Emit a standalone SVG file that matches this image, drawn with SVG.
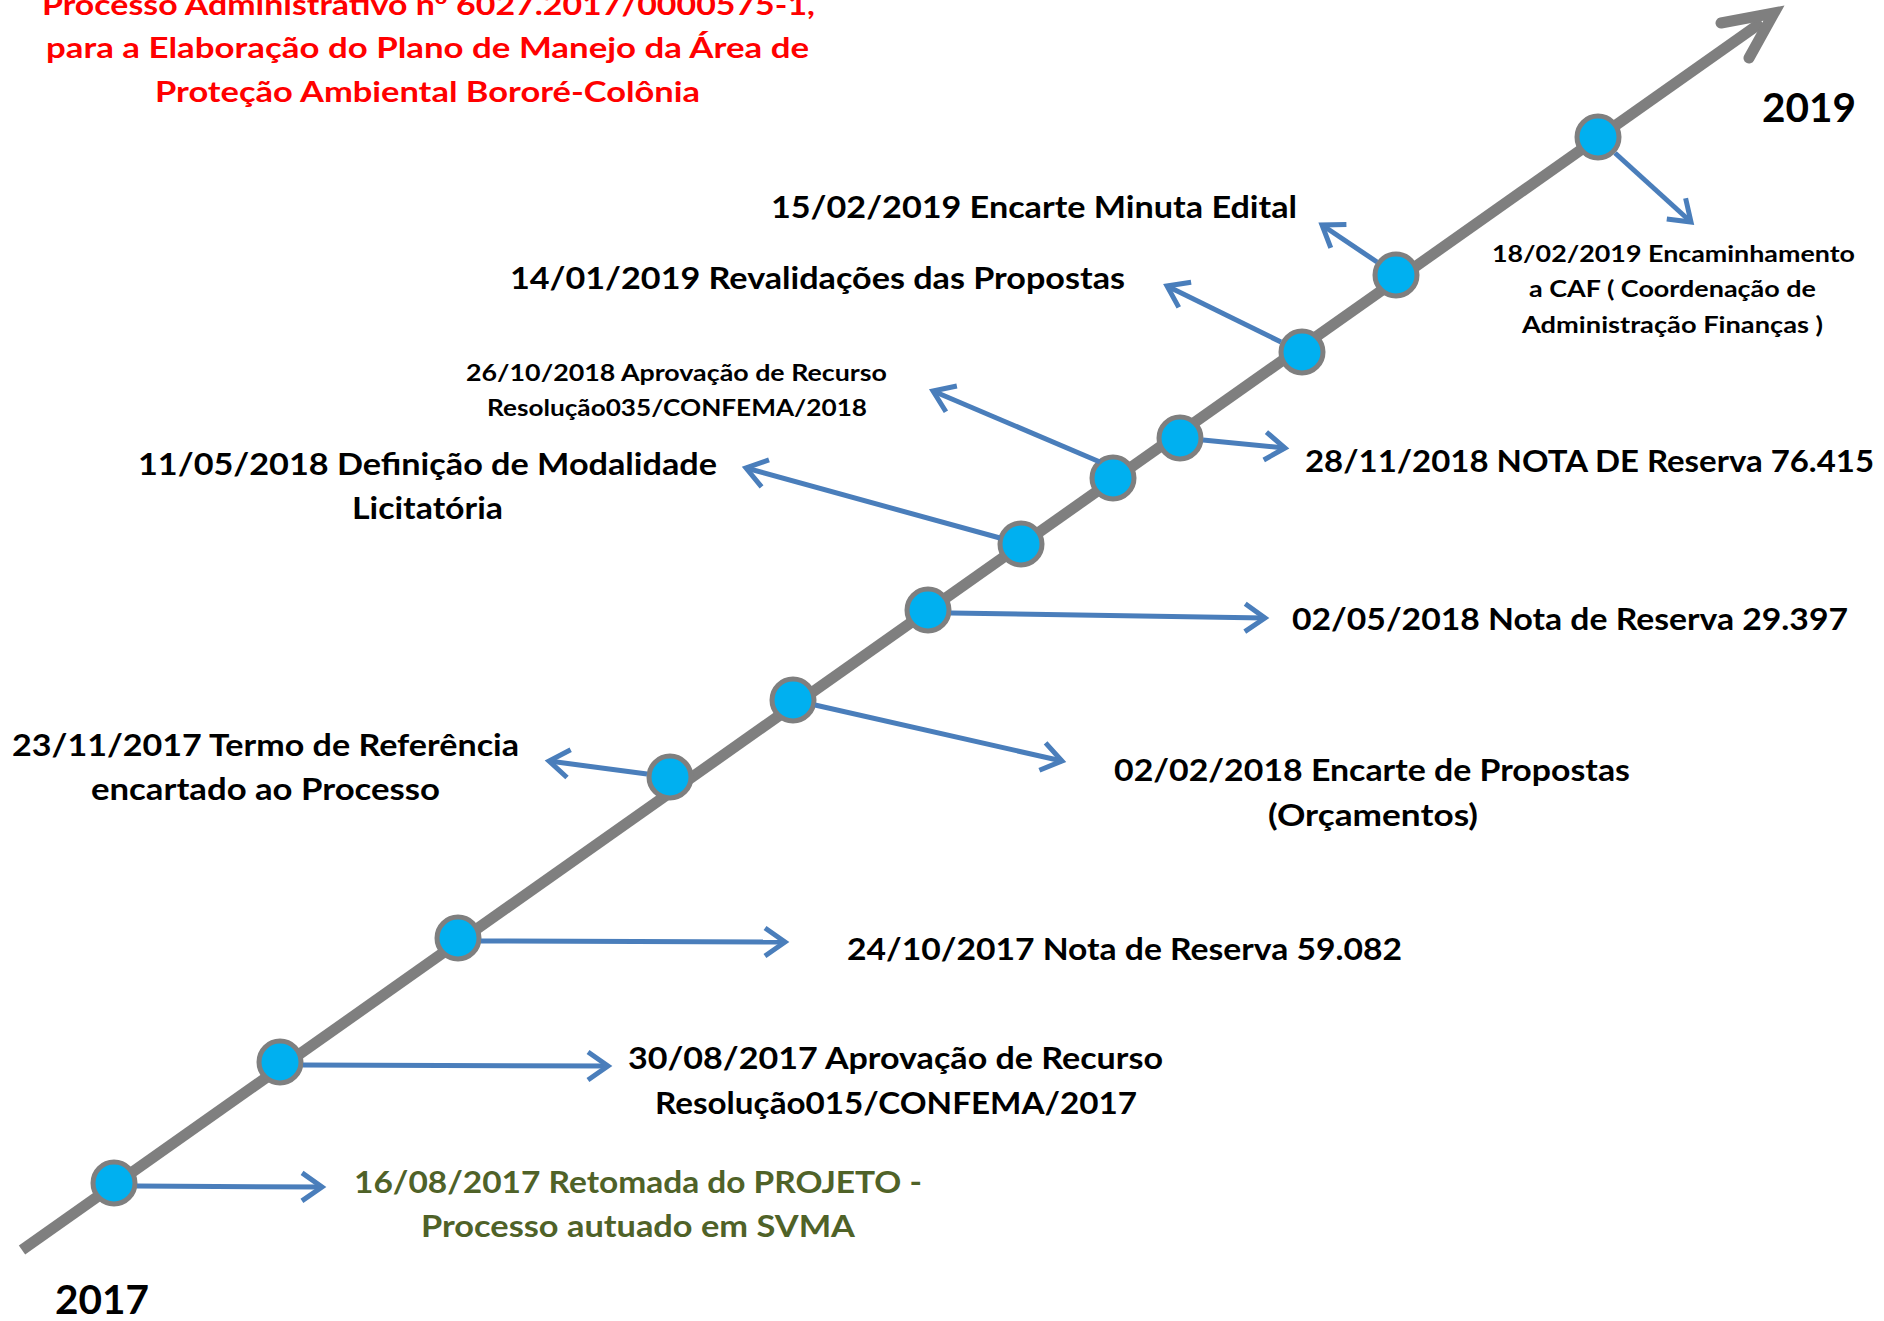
<svg xmlns="http://www.w3.org/2000/svg" width="1884" height="1321" viewBox="0 0 1884 1321">
<style>
text{font-family:Lato,"Liberation Sans",sans-serif;font-weight:bold;fill:#000}
.t{fill:#FF0000;font-size:28px}
.big{font-size:31px}
.sm{font-size:23px}
.yr{font-size:40px}
.g{fill:#4F6228}
.node circle{fill:#00B0F0;stroke:#7F7F7F;stroke-width:5}
.conn line{stroke:#4A7EBB;stroke-width:5;marker-end:url(#ah)}
</style>
<defs>
<marker id="ah" markerUnits="userSpaceOnUse" markerWidth="50" markerHeight="50" viewBox="-25 -25 50 50" refX="0" refY="0" orient="auto" overflow="visible">
<path d="M-20,-14 L0,0 L-20,14" fill="none" stroke="#4A7EBB" stroke-width="5" stroke-linejoin="miter"/>
</marker>
</defs>
<rect width="1884" height="1321" fill="#fff"/>

<g id="title">
<text class="t" x="42" y="15" textLength="773" lengthAdjust="spacingAndGlyphs">Processo Administrativo nº 6027.2017/0000575-1,</text>
<text class="t" x="46" y="58" textLength="763" lengthAdjust="spacingAndGlyphs">para a Elaboração do Plano de Manejo da Área de</text>
<text class="t" x="155" y="102" textLength="545" lengthAdjust="spacingAndGlyphs">Proteção Ambiental Bororé-Colônia</text>
</g>

<g id="timeline">
<line x1="22" y1="1250" x2="1762" y2="22" stroke="#7F7F7F" stroke-width="11"/>
<polyline points="1721,23 1774,13 1749,58" fill="none" stroke="#7F7F7F" stroke-width="11" stroke-linecap="round" stroke-linejoin="miter"/>
</g>

<g id="year2019"><text class="yr" x="1762" y="122" textLength="94" lengthAdjust="spacingAndGlyphs">2019</text></g>
<g id="year2017"><text class="yr" x="55" y="1314" textLength="94" lengthAdjust="spacingAndGlyphs">2017</text></g>

<g id="nodes">
<g id="n1" class="node"><circle cx="114" cy="1183" r="21"/></g>
<g id="n2" class="node"><circle cx="280" cy="1062" r="21"/></g>
<g id="n3" class="node"><circle cx="458" cy="938" r="21"/></g>
<g id="n4" class="node"><circle cx="670" cy="777" r="21"/></g>
<g id="n5" class="node"><circle cx="793" cy="700" r="21"/></g>
<g id="n6" class="node"><circle cx="928" cy="610" r="21"/></g>
<g id="n7" class="node"><circle cx="1021" cy="544" r="21"/></g>
<g id="n8" class="node"><circle cx="1113" cy="478" r="21"/></g>
<g id="n9" class="node"><circle cx="1180" cy="438" r="21"/></g>
<g id="n10" class="node"><circle cx="1302" cy="352" r="21"/></g>
<g id="n11" class="node"><circle cx="1396" cy="275" r="21"/></g>
<g id="n12" class="node"><circle cx="1598" cy="137" r="21"/></g>
</g>

<g id="connectors" class="conn">
<line x1="137" y1="1186" x2="322" y2="1187"/>
<line x1="303" y1="1065" x2="608" y2="1066"/>
<line x1="481" y1="941" x2="785" y2="942"/>
<line x1="647" y1="774" x2="549" y2="761"/>
<line x1="815" y1="705" x2="1062" y2="761"/>
<line x1="951" y1="613" x2="1265" y2="618"/>
<line x1="1000" y1="538" x2="746" y2="468"/>
<line x1="1100" y1="462" x2="933" y2="391"/>
<line x1="1203" y1="440" x2="1285" y2="448"/>
<line x1="1281" y1="342" x2="1167" y2="286"/>
<line x1="1377" y1="262" x2="1322" y2="225"/>
<line x1="1615" y1="153" x2="1691" y2="222"/>
</g>

<g id="label1">
<text class="big g" x="354" y="1193" textLength="568" lengthAdjust="spacingAndGlyphs">16/08/2017 Retomada do PROJETO -</text>
<text class="big g" x="421" y="1237" textLength="434" lengthAdjust="spacingAndGlyphs">Processo autuado em SVMA</text>
</g>
<g id="label2">
<text class="big" x="628" y="1069" textLength="535" lengthAdjust="spacingAndGlyphs">30/08/2017 Aprovação de Recurso</text>
<text class="big" x="655" y="1114" textLength="482" lengthAdjust="spacingAndGlyphs">Resolução015/CONFEMA/2017</text>
</g>
<g id="label3">
<text class="big" x="847" y="960" textLength="555" lengthAdjust="spacingAndGlyphs">24/10/2017 Nota de Reserva 59.082</text>
</g>
<g id="label4">
<text class="big" x="12" y="756" textLength="507" lengthAdjust="spacingAndGlyphs">23/11/2017 Termo de Referência</text>
<text class="big" x="91" y="800" textLength="349" lengthAdjust="spacingAndGlyphs">encartado ao Processo</text>
</g>
<g id="label5">
<text class="big" x="1114" y="781" textLength="516" lengthAdjust="spacingAndGlyphs">02/02/2018 Encarte de Propostas</text>
<text class="big" x="1268" y="826" textLength="210" lengthAdjust="spacingAndGlyphs">(Orçamentos)</text>
</g>
<g id="label6">
<text class="big" x="1292" y="630" textLength="556" lengthAdjust="spacingAndGlyphs">02/05/2018 Nota de Reserva 29.397</text>
</g>
<g id="label7">
<text class="big" x="138" y="475" textLength="579" lengthAdjust="spacingAndGlyphs">11/05/2018 Definição de Modalidade</text>
<text class="big" x="352" y="519" textLength="151" lengthAdjust="spacingAndGlyphs">Licitatória</text>
</g>
<g id="label8">
<text class="sm" x="466" y="381" textLength="421" lengthAdjust="spacingAndGlyphs">26/10/2018 Aprovação de Recurso</text>
<text class="sm" x="487" y="416" textLength="380" lengthAdjust="spacingAndGlyphs">Resolução035/CONFEMA/2018</text>
</g>
<g id="label9">
<text class="big" x="1305" y="472" textLength="569" lengthAdjust="spacingAndGlyphs">28/11/2018 NOTA DE Reserva 76.415</text>
</g>
<g id="label10">
<text class="big" x="510" y="289" textLength="615" lengthAdjust="spacingAndGlyphs">14/01/2019 Revalidações das Propostas</text>
</g>
<g id="label11">
<text class="big" x="771" y="218" textLength="526" lengthAdjust="spacingAndGlyphs">15/02/2019 Encarte Minuta Edital</text>
</g>
<g id="label12">
<text class="sm" x="1492" y="262" textLength="363" lengthAdjust="spacingAndGlyphs">18/02/2019 Encaminhamento</text>
<text class="sm" x="1529" y="297" textLength="287" lengthAdjust="spacingAndGlyphs">a CAF ( Coordenação de</text>
<text class="sm" x="1522" y="333" textLength="301" lengthAdjust="spacingAndGlyphs">Administração Finanças )</text>
</g>
</svg>
